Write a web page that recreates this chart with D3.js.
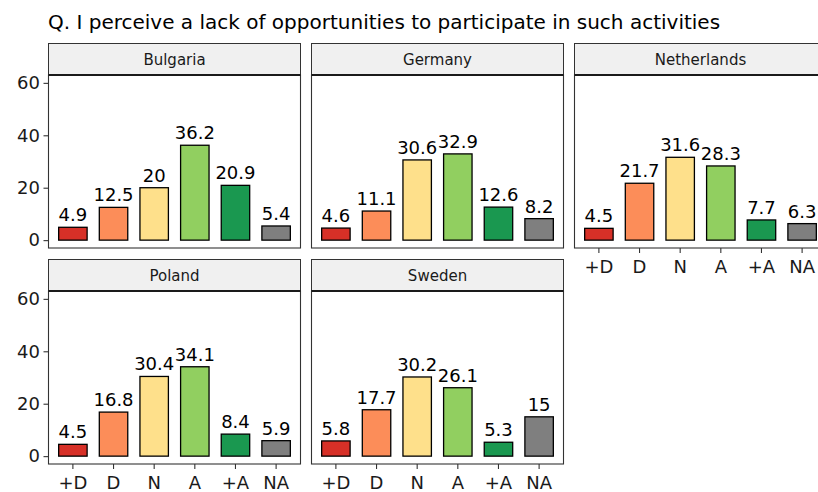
<!DOCTYPE html>
<html>
<head>
<meta charset="utf-8">
<script src="https://cdn.jsdelivr.net/npm/d3@7"></script>
<style>
  body { margin: 0; background: #fff; }
  svg { display: block; font-family: "DejaVu Sans", sans-serif; }
</style>
</head>
<body>
<svg id="chart" width="818" height="492"></svg>
<script>
// Data
const title = "Q. I perceive a lack of opportunities to participate in such activities";
const countries = ["Bulgaria", "Germany", "Netherlands", "Poland", "Sweden"];
const categories = ["+D", "D", "N", "A", "+A", "NA"];
const bulgaria = [4.9, 12.5, 20, 36.2, 20.9, 5.4];
const germany = [4.6, 11.1, 30.6, 32.9, 12.6, 8.2];
const netherlands = [4.5, 21.7, 31.6, 28.3, 7.7, 6.3];
const poland = [4.5, 16.8, 30.4, 34.1, 8.4, 5.9];
const sweden = [5.8, 17.7, 30.2, 26.1, 5.3, 15];
const yTicks = [0, 20, 40, 60];
const colors = ["#d73027", "#fc8d59", "#fee08b", "#91cf60", "#1a9850", "#7f7f7f"];

const seriesByCountry = [bulgaria, germany, netherlands, poland, sweden];

// Layout
const svg = d3.select("#chart");
const panelW = 252;
const colX = [48.5, 311.5, 574.5];
const rowTop = [43.5, 259.5];   // strip top
const stripH = 31.5;
const panelH = 173;

svg.append("text")
    .attr("x", 48)
    .attr("y", 28.5)
    .attr("font-size", 20)
    .attr("fill", "#000")
    .text(title);

const x = d3.scaleBand()
    .domain(categories)
    .range([0, panelW])
    .paddingInner(0.3)
    .paddingOuter(0.25);

const y = d3.scaleLinear()
    .domain([-3, 63])
    .range([panelH, 0]);

countries.forEach((country, i) => {
    const col = i % 3;
    const row = Math.floor(i / 3);
    const values = seriesByCountry[i];
    const g = svg.append("g")
        .attr("transform", `translate(${colX[col]},${rowTop[row]})`);

    // strip
    g.append("rect")
        .attr("width", panelW)
        .attr("height", stripH)
        .attr("fill", "#f0f0f0")
        .attr("stroke", "#333")
        .attr("stroke-width", 1);
    g.append("text")
        .attr("x", panelW / 2)
        .attr("y", stripH / 2 + 5.5)
        .attr("text-anchor", "middle")
        .attr("font-size", 15)
        .attr("fill", "#1a1a1a")
        .text(country);

    const p = g.append("g").attr("transform", `translate(0,${stripH})`);

    p.append("rect")
        .attr("width", panelW)
        .attr("height", panelH)
        .attr("fill", "#fff");

    p.selectAll("rect.bar")
        .data(values)
        .join("rect")
        .attr("class", "bar")
        .attr("x", (d, j) => x(categories[j]))
        .attr("y", d => y(d))
        .attr("width", x.bandwidth())
        .attr("height", d => y(0) - y(d))
        .attr("fill", (d, j) => colors[j])
        .attr("stroke", "#000")
        .attr("stroke-width", 1.3);

    p.selectAll("text.val")
        .data(values)
        .join("text")
        .attr("class", "val")
        .attr("x", (d, j) => x(categories[j]) + x.bandwidth() / 2)
        .attr("y", d => y(d) - 6)
        .attr("text-anchor", "middle")
        .attr("font-size", 18)
        .attr("fill", "#000")
        .text(d => d);

    // panel border
    p.append("rect")
        .attr("width", panelW)
        .attr("height", panelH)
        .attr("fill", "none")
        .attr("stroke", "#333")
        .attr("stroke-width", 1.1);
    g.append("line")
        .attr("x1", 0).attr("x2", panelW)
        .attr("y1", stripH).attr("y2", stripH)
        .attr("stroke", "#1a1a1a")
        .attr("stroke-width", 2.2);

    // y axis on left column
    if (col === 0) {
        const ya = p.append("g")
            .call(d3.axisLeft(y).tickValues(yTicks).tickSize(5).tickPadding(3.5));
        ya.select(".domain").remove();
        ya.selectAll(".tick line").attr("stroke", "#333").attr("stroke-width", 1.1);
        ya.selectAll(".tick text")
            .attr("font-size", 18)
            .attr("font-family", "DejaVu Sans, sans-serif")
            .attr("fill", "#1a1a1a");
    }

    // x axis on bottom panel of each column
    if (row === 1 || col === 2) {
        const xa = p.append("g")
            .attr("transform", `translate(0,${panelH})`)
            .call(d3.axisBottom(x).tickSize(5).tickPadding(7.5));
        xa.select(".domain").remove();
        xa.selectAll(".tick line").attr("stroke", "#333").attr("stroke-width", 1.1);
        xa.selectAll(".tick text")
            .attr("font-size", 18)
            .attr("font-family", "DejaVu Sans, sans-serif")
            .attr("fill", "#1a1a1a");
    }
});
</script>
</body>
</html>
